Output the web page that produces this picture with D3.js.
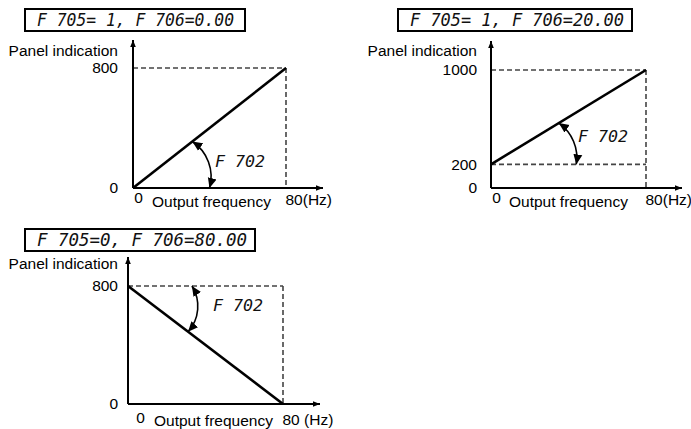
<!DOCTYPE html>
<html><head><meta charset="utf-8">
<script src="https://cdn.jsdelivr.net/npm/d3@7"></script>
<style>body{margin:0;background:#fff}svg{display:block}</style>
</head><body>
<svg id="chart" width="691" height="429"></svg>
<script>
// ---------- data ----------
const panelTitles = ["F 705= 1, F 706=0.00", "F 705= 1, F 706=20.00", "F 705=0, F 706=80.00"];
const yAxisTitle = "Panel indication";
const xAxisTitle = "Output frequency";
const angleLabel = "F 702";
const freqDomain = [0, 80];
const indicationMax = [800, 1000, 800];
const lineFreq = [0, 80];
const lineValuesP1 = [0, 800];
const lineValuesP2 = [200, 1000];
const lineValuesP3 = [800, 0];
const yTickValuesP1 = [0, 800];
const yTickValuesP2 = [0, 200, 1000];
const yTickValuesP3 = [0, 800];
const xTickLabelsP1 = ["0", "80(Hz)"];
const xTickLabelsP2 = ["0", "80(Hz)"];
const xTickLabelsP3 = ["0", "80 (Hz)"];
const dashedLevelsP1 = [800];
const dashedLevelsP2 = [200, 1000];
const dashedLevelsP3 = [800];
// angle arc annotation end points [frequency, indication]
const arcP1 = [[31, 310], [40, 0]];
const arcP2 = [[35, 550], [44, 200]];
const arcP3 = [[33, 800], [31, 490]];

// ---------- layout ----------
const layout = [
  {x0:133, x1:286, y0:188, yTop:68, arrowTop:40, arrowRight:323, yPad:15,
   box:[25,9,220,22], textX:[37,234], ylabY:56, zeroDx:5, xTitleX:152, xDy:[15,19,17], arcR:42,
   angX:215, angY:167},
  {x0:491, x1:646, y0:188, yTop:70, arrowTop:41, arrowRight:682, yPad:14,
   box:[398,9,234,22], textX:[410,624], ylabY:56, zeroDx:5, xTitleX:509, xDy:[15,19,17], arcR:42,
   angX:578, angY:142},
  {x0:128, x1:283, y0:404, yTop:286, arrowTop:257, arrowRight:320, yPad:10,
   box:[25,229,230,22], textX:[37,247], ylabY:269, zeroDx:12, xTitleX:154, xDy:[19,22,21], arcR:38,
   angX:213, angY:311}
];
const yTitlePad = [15, 14, 10];

const panels = [
  {title: panelTitles[0], max: indicationMax[0], values: lineValuesP1, yTicks: yTickValuesP1, xLabels: xTickLabelsP1, dashed: dashedLevelsP1, arc: arcP1},
  {title: panelTitles[1], max: indicationMax[1], values: lineValuesP2, yTicks: yTickValuesP2, xLabels: xTickLabelsP2, dashed: dashedLevelsP2, arc: arcP2},
  {title: panelTitles[2], max: indicationMax[2], values: lineValuesP3, yTicks: yTickValuesP3, xLabels: xTickLabelsP3, dashed: dashedLevelsP3, arc: arcP3}
];

const svg = d3.select("#chart");
const FONT = "'Liberation Sans', Arial, sans-serif";
const FS = 15.5;
const SEG = "'DejaVu Sans Mono', monospace";

const defs = svg.append("defs");
defs.append("marker").attr("id","axArrow").attr("viewBox","0 0 8 8")
  .attr("refX",8).attr("refY",4).attr("markerWidth",8).attr("markerHeight",7)
  .attr("markerUnits","userSpaceOnUse").attr("orient","auto")
  .append("path").attr("d","M0,0.8 L8,4 L0,7.2 Z").attr("fill","#000");
defs.append("marker").attr("id","arcArrow").attr("viewBox","0 0 10 10")
  .attr("refX",10).attr("refY",5).attr("markerWidth",10).attr("markerHeight",10)
  .attr("markerUnits","userSpaceOnUse").attr("orient","auto-start-reverse")
  .append("path").attr("d","M0,0.5 L10,5 L0,9.5 Z").attr("fill","#000");

panels.forEach((p, i) => {
  const L = layout[i];
  const g = svg.append("g");
  const x = d3.scaleLinear().domain(freqDomain).range([L.x0, L.x1]);
  const y = d3.scaleLinear().domain([0, p.max]).range([L.y0, L.yTop]);

  // title box
  g.append("rect").attr("x",L.box[0]).attr("y",L.box[1]).attr("width",L.box[2]).attr("height",L.box[3])
    .attr("fill","none").attr("stroke","#000").attr("stroke-width",2);
  g.append("text").attr("x",L.textX[0]).attr("y",L.box[1]+L.box[3]/2+6)
    .attr("textLength",L.textX[1]-L.textX[0]).attr("lengthAdjust","spacingAndGlyphs")
    .attr("font-family",SEG).attr("font-style","italic").attr("font-size",17)
    .attr("fill","#111").text(p.title);

  // dashed guides
  const maxLevel = d3.max(p.dashed);
  p.dashed.forEach(v => {
    g.append("line").attr("x1",x(freqDomain[0])).attr("x2",x(freqDomain[1]))
      .attr("y1",y(v)).attr("y2",y(v))
      .attr("stroke","#444").attr("stroke-width",1.6).attr("stroke-dasharray","5,3");
  });
  g.append("line").attr("x1",x(freqDomain[1])).attr("x2",x(freqDomain[1]))
    .attr("y1",y(maxLevel)).attr("y2",y(0))
    .attr("stroke","#444").attr("stroke-width",1.6).attr("stroke-dasharray","5,3");

  // axes lines with arrows
  g.append("line").attr("x1",L.x0).attr("y1",L.y0).attr("x2",L.x0).attr("y2",L.arrowTop)
    .attr("stroke","#000").attr("stroke-width",2).attr("marker-end","url(#axArrow)");
  g.append("line").attr("x1",L.x0).attr("y1",L.y0).attr("x2",L.arrowRight).attr("y2",L.y0)
    .attr("stroke","#000").attr("stroke-width",2).attr("marker-end","url(#axArrow)");

  // y axis tick labels
  const ya = g.append("g").attr("transform",`translate(${L.x0},0)`)
    .call(d3.axisLeft(y).tickValues(p.yTicks).tickSize(0).tickPadding(L.yPad).tickFormat(d3.format("d")));
  ya.select(".domain").remove();
  ya.selectAll("text").attr("font-family",FONT).attr("font-size",FS).attr("fill","#000").attr("dy","0.3em");

  // x axis tick labels
  const xa = g.append("g").attr("transform",`translate(0,${L.y0})`)
    .call(d3.axisBottom(x).tickValues(freqDomain).tickSize(0).tickFormat((d, k) => p.xLabels[k]));
  xa.select(".domain").remove();
  xa.selectAll("text").attr("font-family",FONT).attr("font-size",FS).attr("fill","#000")
    .attr("y", (d, k) => k === 0 ? L.xDy[0] : L.xDy[2]).attr("dy", null)
    .attr("text-anchor", (d, k) => k === 0 ? "middle" : "start")
    .attr("dx", (d, k) => k === 0 ? L.zeroDx : -1);

  // axis titles
  g.append("text").attr("x",L.x0 - yTitlePad[i]).attr("y",L.ylabY)
    .attr("text-anchor","end").attr("font-family",FONT).attr("font-size",FS).text(yAxisTitle);
  g.append("text").attr("x",L.xTitleX).attr("y",L.y0 + L.xDy[1])
    .attr("font-family",FONT).attr("font-size",FS).text(xAxisTitle);

  // main characteristic line
  const line = d3.line().x(d => x(d[0])).y(d => y(d[1]));
  g.append("path").datum(lineFreq.map((f, k) => [f, p.values[k]]))
    .attr("d", line).attr("fill","none").attr("stroke","#000").attr("stroke-width",2.6);

  // angle arc annotation
  const s = [x(p.arc[0][0]), y(p.arc[0][1])];
  const e = [x(p.arc[1][0]), y(p.arc[1][1])];
  g.append("path").attr("d",`M${s[0]},${s[1]} A${L.arcR},${L.arcR} 0 0 1 ${e[0]},${e[1]}`)
    .attr("fill","none").attr("stroke","#000").attr("stroke-width",1.6)
    .attr("marker-start","url(#arcArrow)").attr("marker-end","url(#arcArrow)");
  g.append("text").attr("x",L.angX).attr("y",L.angY).attr("textLength",50).attr("lengthAdjust","spacingAndGlyphs")
    .attr("font-family",SEG).attr("font-style","italic").attr("font-size",16).attr("fill","#111").text(angleLabel);
});
</script>
</body></html>
